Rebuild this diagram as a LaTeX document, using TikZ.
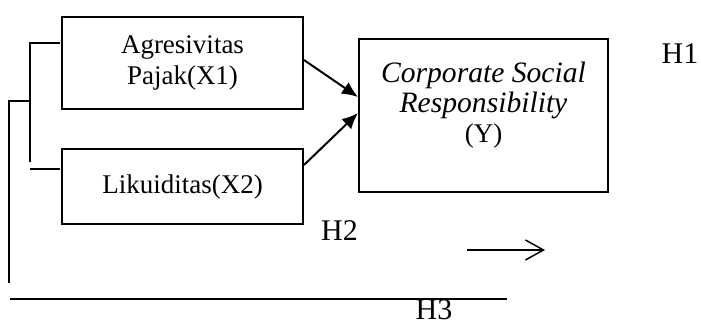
\documentclass[tikz,border=0pt]{standalone}
\usepackage{fontspec}
\setmainfont{Liberation Serif}
\usetikzlibrary{arrows.meta}

\tikzset{
  varbox/.style={draw, line width=1pt, minimum width=120.5pt, align=center,
    font=\fontsize{13.5}{15.5}\selectfont},
  hlabel/.style={anchor=base, inner sep=0pt, font=\fontsize{15}{17}\selectfont},
  path/.style={line width=1pt, -{Latex[length=8pt,width=7pt]}}
}

\begin{document}
\begin{tikzpicture}[x=0.5pt,y=-0.5pt]
\useasboundingbox (0,0) rectangle (701,323);

\node[varbox, minimum height=46pt] (x1) at (182.5,63) {Agresivitas\\Pajak(X1)};
\node[varbox, minimum height=37.5pt] (x2) at (182.5,186.5) {Likuiditas(X2)};
\node[draw, line width=1pt, minimum width=124.5pt, minimum height=76.5pt] (csr) at (483.5,115.5) {};
\node[anchor=north, inner sep=0pt, align=center, font=\fontsize{14.8}{15}\selectfont]
  (csrtext) at ([yshift=-12pt]csr.north) {\textit{Corporate Social}\\\textit{Responsibility}\\\fontsize{13.5}{15}\selectfont(Y)};

\draw[path] ([yshift=1.5pt]x1.east) to ([yshift=9.25pt]csr.west);
\draw[path] ([yshift=10.75pt]x2.east) to ([yshift=1.25pt]csr.west);

% brackets on the left
\coordinate (b1) at (60,43);
\coordinate (b2) at (30,43);
\coordinate (b3) at (30,162);
\coordinate (b4) at (30,169);
\coordinate (b5) at (60,169);
\coordinate (b6) at (30,101);
\coordinate (b7) at (9,101);
\coordinate (b8) at (9,283);
\coordinate (b9) at (10,299);
\coordinate (b10) at (507,299);
\draw[line width=1pt] (b1) -- (b2) -- (b3);
\draw[line width=1pt] (b4) -- (b5);
\draw[line width=1pt] (b6) -- (b7) -- (b8);
\draw[line width=1pt] (b9) -- (b10);

\node[hlabel] (h1) at (680,63) {H1};
\node[hlabel] (h2) at (339.5,240) {H2};
\node[hlabel] (h3) at (434,319) {H3};

\coordinate (ar1) at (467,250);
\coordinate (ar2) at (545,250);
\draw[line width=0.75pt, -{Straight Barb[length=9pt,width=10pt]}] (ar1) -- (ar2);
\end{tikzpicture}
\end{document}
